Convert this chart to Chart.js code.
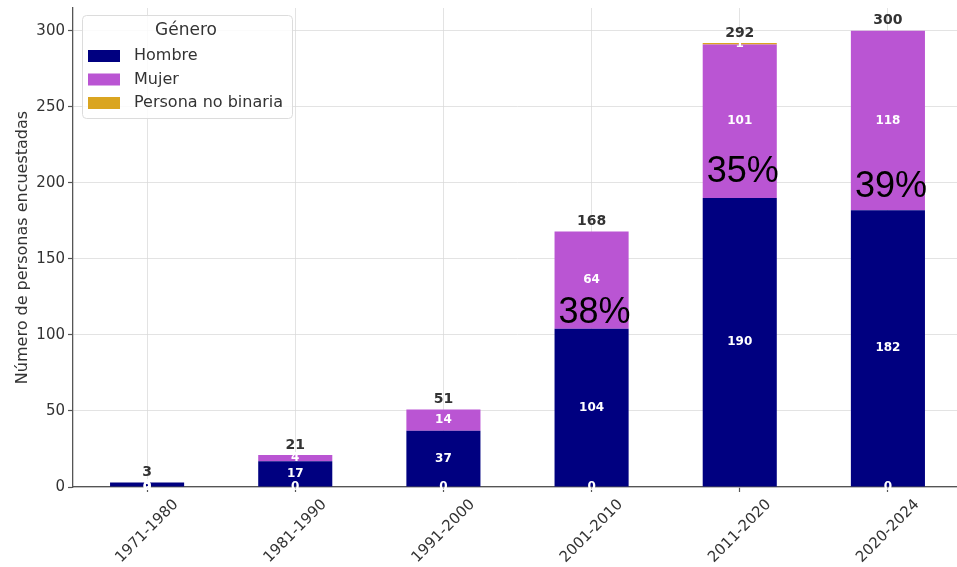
<!DOCTYPE html>
<html>
<head>
<meta charset="utf-8">
<script src="https://cdn.jsdelivr.net/npm/chart.js@4.4.1/dist/chart.umd.min.js"></script>
<style>
  html, body { margin: 0; padding: 0; background: #fff; overflow: hidden; }
  #wrap { width: 962px; height: 567px; }
</style>
</head>
<body>
<div id="wrap"><canvas id="chart"></canvas></div>
<script>
// ── DATA ──
const periods   = ['1971-1980', '1981-1990', '1991-2000', '2001-2010', '2011-2020', '2020-2024'];
const hombre    = [3, 17, 37, 104, 190, 182];
const mujer     = [0, 4, 14, 64, 101, 118];
const noBinaria = [0, 0, 0, 0, 1, 0];
const yTicks    = [0, 50, 100, 150, 200, 250, 300];
const pctShown  = [false, false, false, true, true, true];
const pctLift   = [0, 0, 0, 6, 16, 13]; // px above the Hombre/Mujer boundary

const totals = periods.map((_, i) => hombre[i] + mujer[i] + noBinaria[i]);

const COLORS = { hombre: '#000080', mujer: '#BA55D3', nb: '#DAA520' };
const FONT = "'DejaVu Sans', sans-serif";

// ── LABELS ON THE BARS ──
const barLabels = {
    id: 'barLabels',
    afterDatasetsDraw(chart) {
        const { ctx, scales: { y } } = chart;
        ctx.save();
        ctx.textAlign = 'center';
        ctx.textBaseline = 'middle';

        // values inside each segment
        ctx.font = 'bold 12px ' + FONT;
        ctx.fillStyle = '#fff';
        chart.data.datasets.forEach((ds, di) => {
            chart.getDatasetMeta(di).data.forEach((bar, i) => {
                const v = ds.data[i];
                const cy = v === 0 ? y.getPixelForValue(0) : (bar.y + bar.base) / 2;
                ctx.fillText(String(v), bar.x, cy);
            });
        });

        // totals on top
        const meta0 = chart.getDatasetMeta(0);
        ctx.font = 'bold 14px ' + FONT;
        ctx.fillStyle = '#333';
        totals.forEach((t, i) => {
            ctx.fillText(String(t), meta0.data[i].x, y.getPixelForValue(t) - 10);
        });

        // share of women
        ctx.font = "36px 'Liberation Sans', Arial, sans-serif";
        ctx.fillStyle = '#000';
        ctx.textBaseline = 'alphabetic';
        totals.forEach((t, i) => {
            if (!pctShown[i]) return;
            const pct = Math.round(mujer[i] / t * 100) + '%';
            ctx.fillText(pct, meta0.data[i].x + 3, y.getPixelForValue(hombre[i]) - pctLift[i]);
        });
        ctx.restore();
    }
};

// ── LEGEND BOX INSIDE THE PLOT ──
const boxLegend = {
    id: 'boxLegend',
    afterDraw(chart) {
        const { ctx, chartArea } = chart;
        const bx = chartArea.left + 9, by = chartArea.top + 7, bw = 210, bh = 103;
        ctx.save();
        ctx.fillStyle = 'rgba(255,255,255,0.85)';
        ctx.strokeStyle = '#dcdcdc';
        ctx.lineWidth = 1;
        ctx.beginPath();
        ctx.roundRect(bx + 0.5, by + 0.5, bw, bh, 4);
        ctx.fill();
        ctx.stroke();

        ctx.fillStyle = '#333';
        ctx.textBaseline = 'middle';
        ctx.textAlign = 'center';
        ctx.font = '17px ' + FONT;
        ctx.fillText('Género', bx + 104, by + 16);

        ctx.textAlign = 'left';
        ctx.font = '16px ' + FONT;
        chart.data.datasets.forEach((ds, i) => {
            const cy = by + 41 + i * 23.5;
            ctx.fillStyle = ds.backgroundColor;
            ctx.fillRect(bx + 6, cy - 6, 32, 12);
            ctx.fillStyle = '#333';
            ctx.fillText(ds.label, bx + 52, cy);
        });
        ctx.restore();
    }
};

const gridStyle = {
    color: 'rgba(215,215,215,0.7)',
    lineWidth: 1,
    borderDash: [3, 1.5],
    tickColor: '#555',
    tickBorderDash: [],
    tickLength: 5,
    tickWidth: 1.2,
    offset: false
};

new Chart(document.getElementById('chart'), {
    type: 'bar',
    data: {
        labels: periods,
        datasets: [
            { label: 'Hombre', data: hombre, backgroundColor: COLORS.hombre },
            { label: 'Mujer', data: mujer, backgroundColor: COLORS.mujer },
            { label: 'Persona no binaria', data: noBinaria, backgroundColor: COLORS.nb }
        ]
    },
    options: {
        responsive: true,
        maintainAspectRatio: false,
        animation: false,
        layout: { padding: { top: 8, right: 0, left: 0, bottom: 0 } },
        datasets: { bar: { barPercentage: 0.5, categoryPercentage: 1.0 } },
        plugins: {
            legend: { display: false },
            tooltip: { enabled: false }
        },
        scales: {
            x: {
                stacked: true,
                z: 1,
                grid: gridStyle,
                border: { display: true, color: '#555', width: 1.3 },
                ticks: {
                    color: '#333',
                    font: { family: FONT, size: 15 },
                    minRotation: 45,
                    maxRotation: 45,
                    labelOffset: 29,
                    padding: 4
                },
                afterFit(scale) { scale.height = 80; }
            },
            y: {
                stacked: true,
                min: 0,
                max: 315,
                z: 1,
                grid: gridStyle,
                border: { display: true, color: '#555', width: 1.3 },
                afterBuildTicks(scale) { scale.ticks = yTicks.map(v => ({ value: v })); },
                ticks: {
                    color: '#333',
                    font: { family: FONT, size: 15 },
                    padding: 3
                },
                title: {
                    display: true,
                    text: 'Número de personas encuestadas',
                    color: '#333',
                    font: { family: FONT, size: 16 },
                    padding: { top: 13, bottom: 0 }
                },
                afterFit(scale) {
                    scale.width = 73;
                    scale.paddingTop = 0;
                }
            }
        }
    },
    plugins: [barLabels, boxLegend]
});
</script>
</body>
</html>
